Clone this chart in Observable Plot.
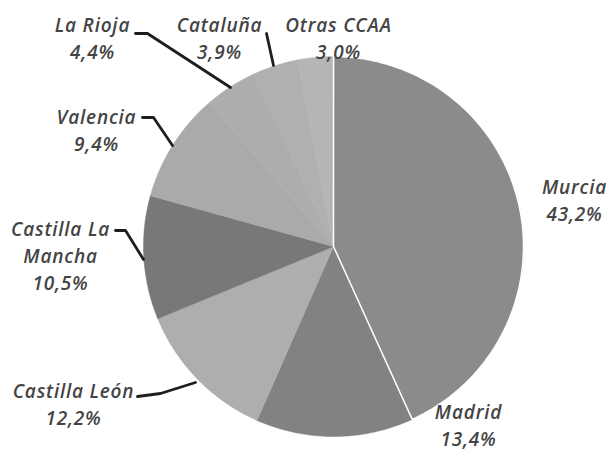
<!DOCTYPE html>
<html><head><meta charset="utf-8">
<script src="https://cdn.jsdelivr.net/npm/d3@7"></script>
<script src="https://cdn.jsdelivr.net/npm/@observablehq/plot@0.6"></script>
<style>body{margin:0;background:#fff} svg text{letter-spacing:0.8px}</style>
</head><body><div id="chart"></div>
<script>
// Data
const regions = ["Murcia","Madrid","Castilla León","Castilla La Mancha","Valencia","La Rioja","Cataluña","Otras CCAA"];
const shares = [43.2, 13.4, 12.2, 10.5, 9.4, 4.4, 3.9, 3.0];
const labelText = ["Murcia\n43,2%","Madrid\n13,4%","Castilla León\n12,2%","Castilla La\nMancha\n10,5%","Valencia\n9,4%","La Rioja\n4,4%","Cataluña\n3,9%","Otras CCAA\n3,0%"];
const sliceColors = ["#8b8b8b","#828282","#aeaeae","#787878","#aaaaaa","#adadad","#b0b0b0","#b5b5b5"];

// Layout (pixel space through identity scales)
const W = 608, H = 451, CX = 333, CY = 246, R = 190;
const labelPos = [[574,198],[468,423],[73,402],[60,254],[96,128],[92,36],[219,36],[338,36]];
const leaders = [
  {name:"Castilla León", pts:[[137,396],[160,393],[195,382]]},
  {name:"Castilla La Mancha", pts:[[115,230],[125,230],[143,259]]},
  {name:"Valencia", pts:[[142,117],[153,117],[172,145]]},
  {name:"La Rioja", pts:[[135,33],[147,33],[230,87]]},
  {name:"Cataluña", pts:[[266,33],[273,65]]}
];

const arcs = d3.pie().sort(null).value(d => d)(shares);
const slicePts = [];
arcs.forEach((a, i) => {
  const n = Math.max(8, Math.ceil((a.endAngle - a.startAngle) * 60));
  slicePts.push({name: regions[i], x: CX, y: CY});
  for (let k = 0; k <= n; k++) {
    const t = a.startAngle + (a.endAngle - a.startAngle) * k / n;
    slicePts.push({name: regions[i], x: CX + R * Math.sin(t), y: CY - R * Math.cos(t)});
  }
});
const leaderPts = leaders.flatMap(l => l.pts.map(([x, y]) => ({name: l.name, x, y})));
const labels = regions.map((r, i) => ({name: r, text: labelText[i], x: labelPos[i][0], y: labelPos[i][1]}));

const plot = Plot.plot({
  width: W, height: H,
  margin: 0,
  x: {domain: [0, W], range: [0, W], axis: null},
  y: {domain: [0, H], range: [0, H], axis: null},
  color: {domain: regions, range: sliceColors},
  style: {fontFamily: "'Open Sans', sans-serif", background: "#fff"},
  marks: [
    Plot.line(slicePts, {x: "x", y: "y", z: "name", fill: "name", stroke: "name", strokeWidth: 0.5, curve: "linear-closed"}),
    Plot.line(slicePts.filter(d => d.name === "Murcia"), {x: "x", y: "y", stroke: "#fff", strokeWidth: 1.5, curve: "linear-closed"}),
    Plot.line(leaderPts, {x: "x", y: "y", z: "name", stroke: "#1e1e1e", strokeWidth: 2.8}),
    Plot.text(labels, {x: "x", y: "y", text: "text", lineAnchor: "middle", lineHeight: 1.42, fontSize: 19, fontStyle: "italic", fontWeight: 600, fill: "#444"})
  ]
});
document.getElementById("chart").append(plot);
</script>
</body></html>
